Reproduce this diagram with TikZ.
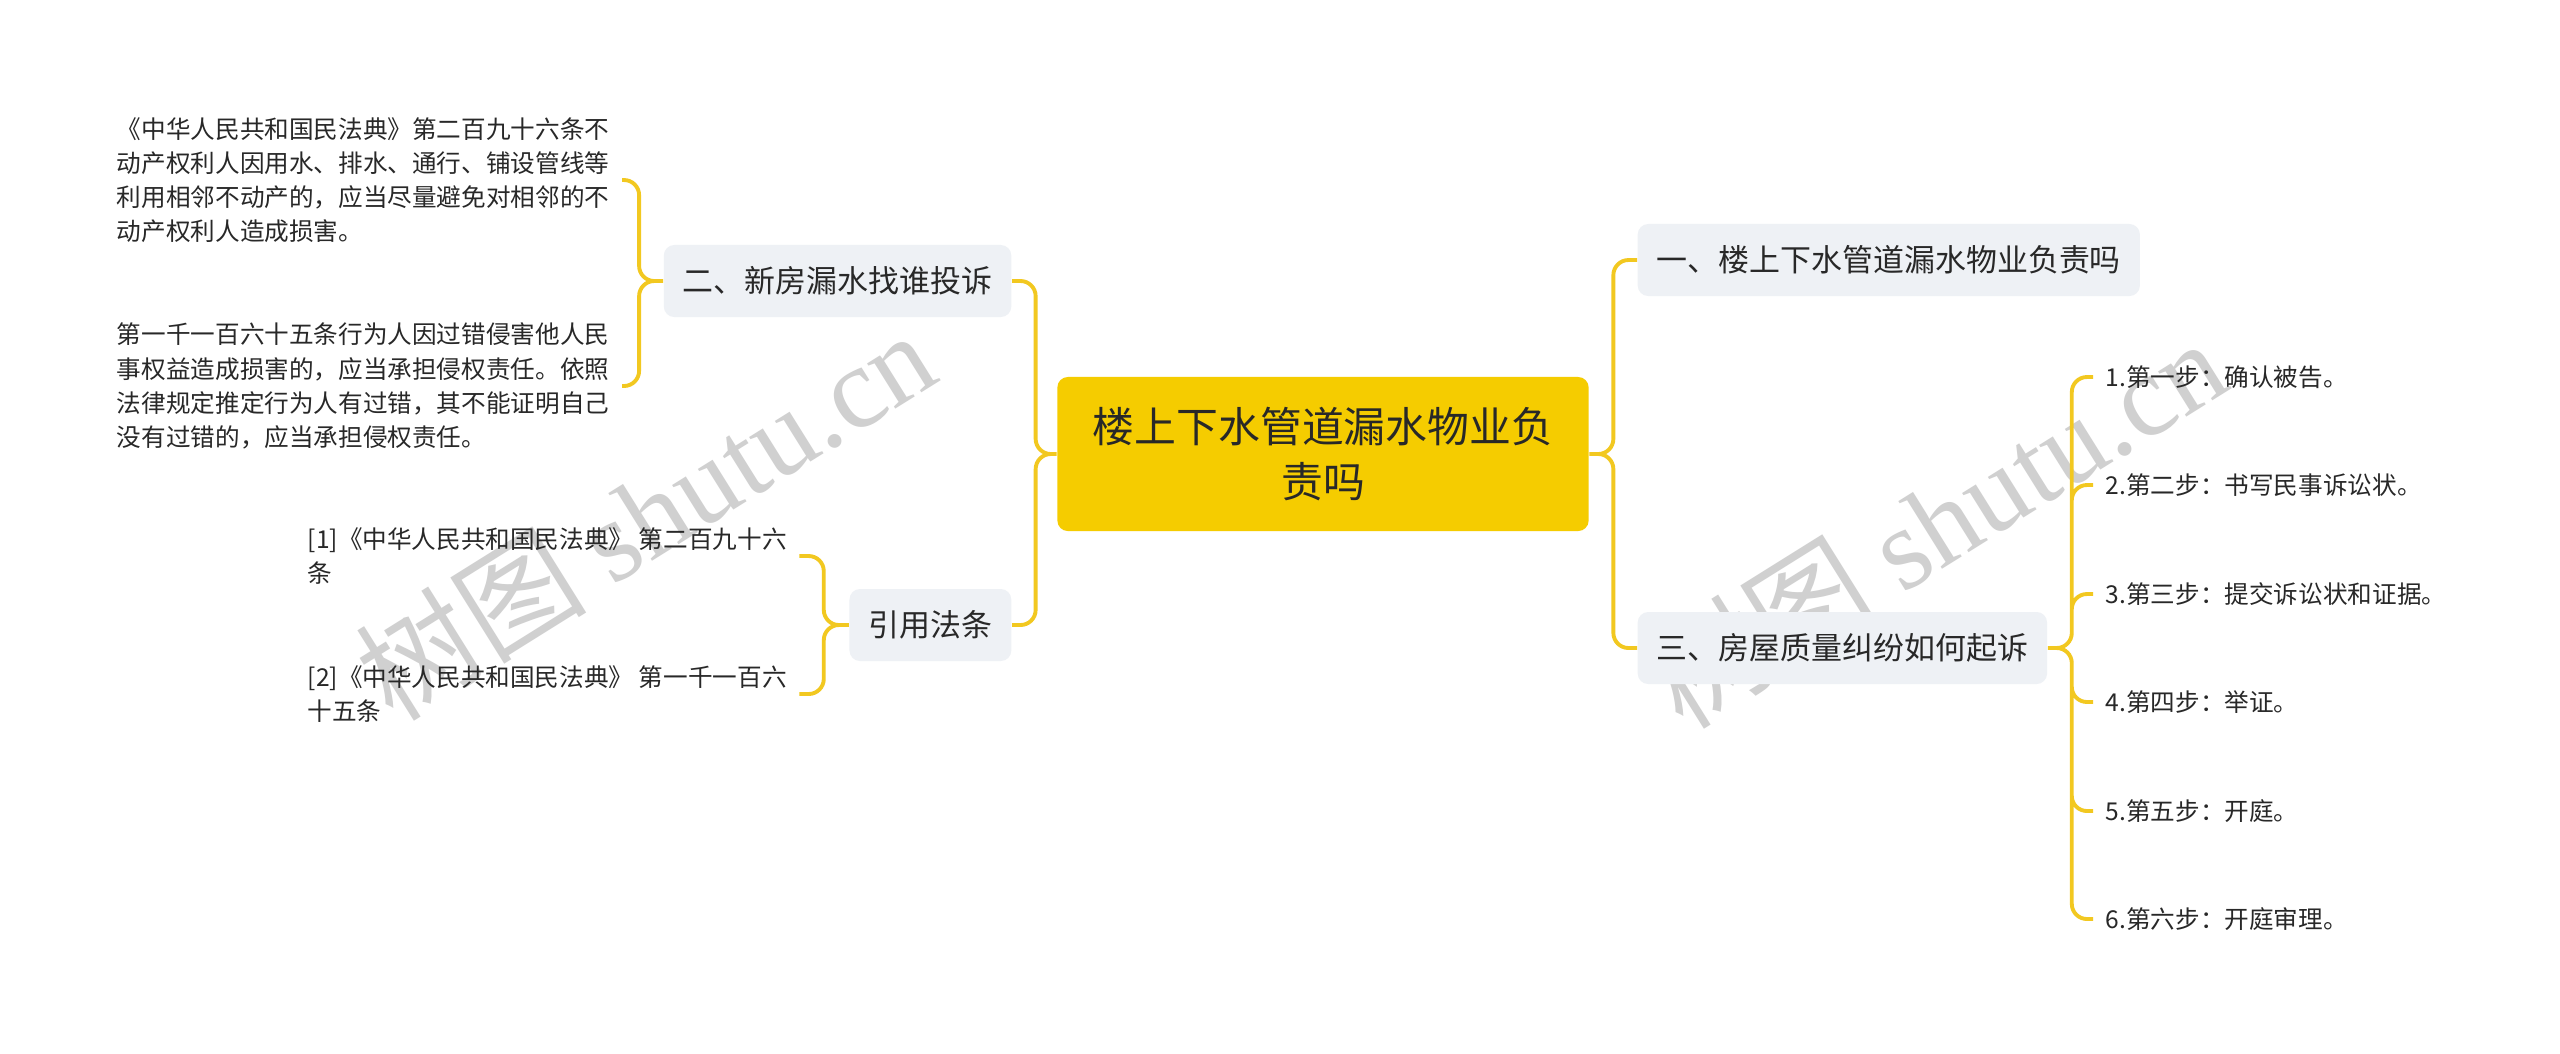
\documentclass[tikz,border=0pt]{standalone}
\usepackage{fontspec}
\setmainfont{Noto Sans CJK SC}
\newfontfamily\wmfont{Liberation Serif}
\usepackage{tikz}
\usetikzlibrary{positioning}

\definecolor{rootyellow}{RGB}{245,204,0}
\definecolor{linkyellow}{RGB}{242,200,32}
\definecolor{topicgray}{RGB}{238,241,245}
\definecolor{inkdark}{RGB}{40,40,40}
\definecolor{wmgray}{RGB}{208,208,208}

\tikzset{
  root/.style={fill=rootyellow, rounded corners=3pt, minimum width=5.31cm,
    minimum height=1.54cm, text width=4.9cm, align=center, text=inkdark,
    font=\fontsize{11.9}{15.4}\selectfont},
  topic/.style={fill=topicgray, rounded corners=3pt, minimum height=0.72cm,
    inner xsep=0.19cm, text=inkdark, font=\fontsize{8.8}{10.5}\selectfont},
  leaf/.style={inner xsep=0.12cm, inner ysep=0pt, align=left, text=inkdark,
    font=\fontsize{7}{9.7}\selectfont},
  link/.style={draw=linkyellow, line width=1.1pt, rounded corners=4.3pt},
  watermark/.style={text=wmgray, rotate=32,
    font=\fontsize{33}{33}\selectfont}
}

\begin{document}
\begin{tikzpicture}[x=0.01cm, y=-0.01cm]
            % Rahmen
            \fill[white] (0,0) rectangle (2560,1053);
            \useasboundingbox (0,0) rectangle (2560,1053);

            % Wasserzeichen
            \node[watermark] (wm1) at (645,514) {树图 {\wmfont shutu.cn}};
            \node[watermark] (wm2) at (1935,522) {树图 {\wmfont shutu.cn}};

            \node[root] (root) at (1323,454) {楼上下水管道漏水物业负\\责吗};

            % rechte Seite
            \node[topic, anchor=west] (t1) at (1637,260) {一、楼上下水管道漏水物业负责吗};
            \node[topic, anchor=west] (t3) at (1637,648) {三、房屋质量纠纷如何起诉};
            \node[leaf, anchor=west] (s1) at (2093,377) {1.第一步：确认被告。};
            \node[leaf, anchor=west] (s2) at (2093,485) {2.第二步：书写民事诉讼状。};
            \node[leaf, anchor=west] (s3) at (2093,594) {3.第三步：提交诉讼状和证据。};
            \node[leaf, anchor=west] (s4) at (2093,702) {4.第四步：举证。};
            \node[leaf, anchor=west] (s5) at (2093,811) {5.第五步：开庭。};
            \node[leaf, anchor=west] (s6) at (2093,919) {6.第六步：开庭审理。};

            % linke Seite
            \node[topic, anchor=east] (t2) at (1012,281) {二、新房漏水找谁投诉};
            \node[topic, anchor=east] (t4) at (1012,625) {引用法条};
            \node[leaf, anchor=east] (l1) at (622,180) {《中华人民共和国民法典》第二百九十六条不\\动产权利人因用水、排水、通行、铺设管线等\\利用相邻不动产的，应当尽量避免对相邻的不\\动产权利人造成损害。};
            \node[leaf, anchor=east] (l2) at (622,386) {第一千一百六十五条行为人因过错侵害他人民\\事权益造成损害的，应当承担侵权责任。依照\\法律规定推定行为人有过错，其不能证明自己\\没有过错的，应当承担侵权责任。};
            \node[leaf, anchor=west] (r1) at (295,556) {[1]《中华人民共和国民法典》 第二百九十六\\条};
            \node[leaf, anchor=west] (r2) at (295,694) {[2]《中华人民共和国民法典》 第一千一百六\\十五条};

            \path[link] (root.east) -- ++(24,0) |- (t1.west)
                        (root.east) -- ++(24,0) |- (t3.west)
                        (root.west) -- ++(-21,0) |- (t2.east)
                        (root.west) -- ++(-21,0) |- (t4.east);
            \path[link] (t3.east) -- ++(24,0) |- (s1.west)
                        (t3.east) -- ++(24,0) |- (s2.west)
                        (t3.east) -- ++(24,0) |- (s3.west)
                        (t3.east) -- ++(24,0) |- (s4.west)
                        (t3.east) -- ++(24,0) |- (s5.west)
                        (t3.east) -- ++(24,0) |- (s6.west);
            \path[link] (t2.west) -- ++(-24,0) |- (l1.east)
                        (t2.west) -- ++(-24,0) |- (l2.east);
            \path[link] (t4.west) -- ++(-25,0) |- (r1.east)
                        (t4.west) -- ++(-25,0) |- (r2.east);
\end{tikzpicture}
\end{document}
